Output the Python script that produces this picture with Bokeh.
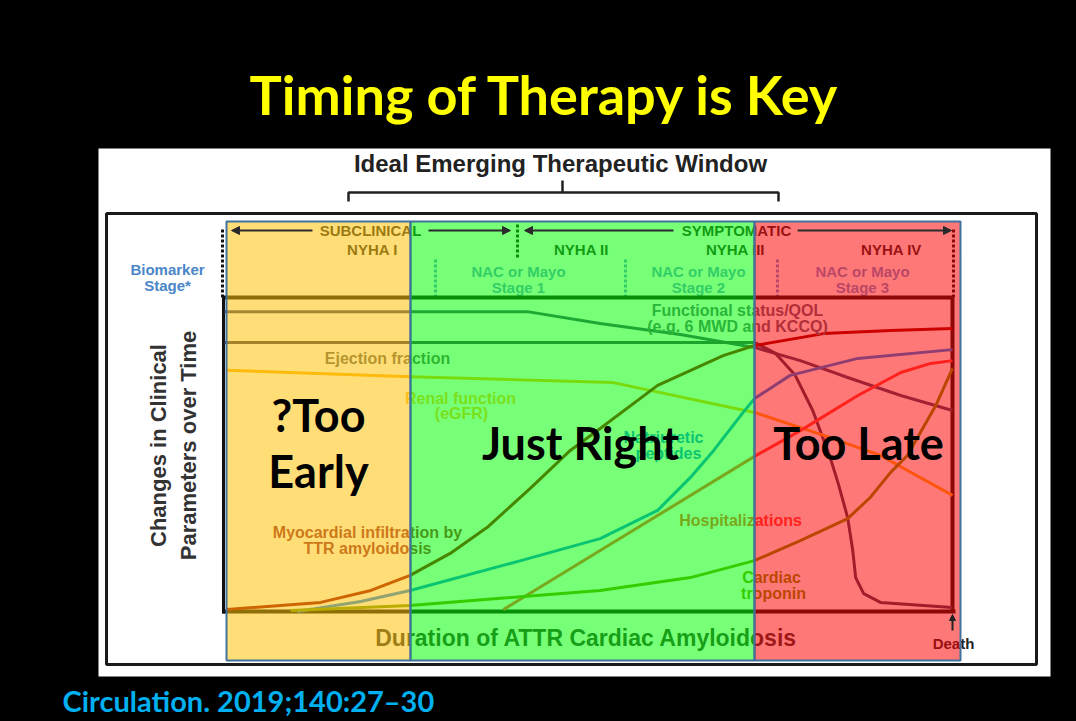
import math
from bokeh.plotting import figure
from bokeh.models import Arrow, NormalHead, Range1d
from bokeh.embed import file_html
from bokeh.resources import INLINE
from bokeh.core.properties import value

# ---------------- data: time = % of disease duration, level = % of scale ----------------
func_t = [0, 41.6, 51.6, 62.6, 72.8, 79.1, 86.0, 92.9, 100]
func_v = [95.5, 95.5, 91.7, 88.2, 84.1, 79.9, 74.2, 68.8, 64.0]

ef_t = [0, 72.8, 75.7, 78.4, 80.8, 83.2, 84.3, 85.6, 86.3, 86.7, 87.8, 90.1, 96.0, 100]
ef_v = [85.7, 85.7, 82.2, 75.2, 64.0, 49.0, 40.8, 29.9, 19.4, 10.8, 5.7, 2.9, 1.9, 1.3]

renal_t = [0.3, 25.5, 53.4, 72.8, 82.3, 90.1, 100]
renal_v = [76.8, 74.8, 72.9, 63.4, 56.1, 49.7, 37.0]

myo_t = [0.3, 13.2, 20.1, 25.5, 31.0, 36.1, 42.0, 47.5, 51.6, 59.5, 68.5, 72.8, 82.3, 91.5, 100]
myo_v = [0.6, 2.9, 6.7, 11.5, 18.5, 26.8, 39.2, 51.3, 58.3, 72.0, 81.5, 84.7, 88.5, 89.5, 90.1]

nat_t = [10.0, 18.7, 25.5, 40.7, 51.6, 59.5, 64.0, 67.2, 70.9, 72.8, 77.7, 87.0, 100]
nat_v = [0.0, 3.2, 6.7, 16.2, 23.2, 32.2, 42.7, 51.3, 62.4, 67.8, 75.2, 80.6, 83.4]

hosp_t = [38.3, 51.6, 72.8, 79.1, 87.0, 92.9, 97.0, 100]
hosp_v = [0.6, 19.4, 49.4, 57.6, 68.8, 76.1, 79.0, 79.9]

trop_t = [9.1, 25.5, 51.6, 64.0, 72.8, 79.1, 85.6, 88.7, 91.5, 93.8, 95.2, 97.7, 100]
trop_v = [0.3, 1.9, 6.7, 10.8, 16.2, 22.6, 29.6, 36.3, 44.3, 49.7, 55.4, 65.6, 77.4]

phase_labels = ["?Too|Early", "Just Right", "Too Late"]

# ---------------- layout helpers (screen pixel -> data units) ----------------
X0, X1 = 224.0, 952.0   # time 0 and 100
Y0, Y1 = 611.0, 297.0   # level 0 and 100
def tx(sx):
    return (sx - X0) / (X1 - X0) * 100.0
def ty(sy):
    return (Y0 - sy) / (Y0 - Y1) * 100.0

W, H = 1076, 721
p = figure(width=W, height=H, output_backend="svg", toolbar_location=None,
           x_range=Range1d(tx(0), tx(W)), y_range=Range1d(ty(H), ty(0)),
           min_border=0)
p.axis.visible = False
p.grid.visible = False
p.outline_line_color = None
p.background_fill_color = "black"
p.border_fill_color = "black"

ARIAL = value("Liberation Sans")
CAL = value("Lato")

def txt(items, size, color, font=ARIAL, align="center", angle=0.0):
    p.text(x=[tx(a) for a, b, c in items], y=[ty(b) for a, b, c in items],
           text=[c for a, b, c in items], text_font=font, text_font_style="bold",
           text_font_size=size, text_color=color, text_align=align,
           text_baseline="middle", angle=angle)

def seg(xs, ys, color, width, dash="solid"):
    p.line([tx(v) for v in xs], [ty(v) for v in ys], line_color=color,
           line_width=width, line_dash=dash, line_cap="butt")

# white picture area
p.quad(left=[tx(98)], right=[tx(1050)], top=[ty(148)], bottom=[ty(676)],
       fill_color="white", line_color=None)

# title
txt([(545, 94, "Timing of Therapy is Key")], "54px", "#FFFF00", font=CAL)

# therapeutic window heading and bracket
txt([(560, 163, "Ideal Emerging Therapeutic Window")], "24px", "#222222")
seg([348, 348, 778, 778], [201, 192, 192, 201], "#222222", 2.5)
seg([562, 562], [192, 180], "#222222", 2.5)

# outer frame
p.quad(left=[tx(106)], right=[tx(1036)], top=[ty(213)], bottom=[ty(664)],
       fill_color=None, line_color="#1a1a1a", line_width=3)

# header: stage arrows and separators
DK = "#2a2a2a"
for xs, xe in [(312, 231), (428, 510), (673, 524), (797, 951)]:
    p.add_layout(Arrow(end=NormalHead(size=8, line_color=DK, fill_color=DK),
                       x_start=tx(xs), y_start=ty(230), x_end=tx(xe), y_end=ty(230),
                       line_color=DK, line_width=2))
seg([222, 222], [229, 297], "#111111", 3, "3 2")
seg([953, 953], [229, 297], "#111111", 3, "3 2")
seg([517, 517], [224, 259], "#111111", 3, "3 2")
BL = "#6e96d7"
for xv in [435, 625, 777]:
    seg([xv, xv], [259, 296], BL, 3, "3 2")

txt([(370, 230, "SUBCLINICAL"), (736, 230, "SYMPTOMATIC"),
     (372, 249, "NYHA I"), (581, 249, "NYHA II"), (735, 249, "NYHA III"),
     (891, 249, "NYHA IV")], "15px", DK)
txt([(518, 271, "NAC or Mayo"), (518, 287, "Stage 1"),
     (698, 271, "NAC or Mayo"), (698, 287, "Stage 2"),
     (862, 271, "NAC or Mayo"), (862, 287, "Stage 3")], "15px", BL)
txt([(167, 269, "Biomarker"), (167, 285, "Stage*")], "15px", "#4A86C8")

# y-axis title
txt([(158, 445, "Changes in Clinical"), (188, 445, "Parameters over Time")],
    "22px", "#333333", angle=math.pi / 2)

# plot frame
seg([222, 953], [297, 297], "#111111", 4)
seg([222, 955], [611, 611], "#111111", 4)
seg([223, 223], [297, 613], "#111111", 3)
seg([952, 952], [297, 611], "#111111", 4)

# curves
curves = [
    (func_t, func_v, "#3c466e"),
    (ef_t, ef_v, "#3c3c5a"),
    (renal_t, renal_v, "#ffb21e"),
    (nat_t, nat_v, "#1482f0"),
    (hosp_t, hosp_v, "#ff463c"),
    (trop_t, trop_v, "#6e9600"),
    (myo_t, myo_v, "#960000"),
]
for t, v, c in curves:
    p.line(t, v, line_color=c, line_width=3, line_join="round")

# curve labels
txt([(737, 310, "Functional status/QOL"), (737, 326, "(e.g. 6 MWD and KCCQ)")],
    "16px", "#5a6478")
txt([(387, 358, "Ejection fraction")], "16px", "#646464")
txt([(460, 398, "Renal function"), (461, 413, "(eGFR)")], "16px", "#ffbe3c")
txt([(663, 437, "Natriuretic"), (668, 453, "peptides")], "16px", "#1482f0")
txt([(740, 520, "Hospitalizations")], "16px", "#ff463c")
txt([(771, 577, "Cardiac"), (773, 593, "troponin")], "16px", "#6e9600")
txt([(367, 532, "Myocardial infiltration by"), (367, 548, "TTR amyloidosis")],
    "16px", "#962838")

# x-axis title and death marker
txt([(586, 637, "Duration of ATTR Cardiac Amyloidosis")], "23px", "#333333")
p.add_layout(Arrow(end=NormalHead(size=6, line_color="#222222", fill_color="#222222"),
                   x_start=tx(952), y_start=ty(630), x_end=tx(952), y_end=ty(614),
                   line_color="#222222", line_width=2))
txt([(953, 643, "Death")], "15px", "#222222")

# timing overlays
ov_left = [226, 410, 754]
ov_right = [410, 754, 960]
ov_col = ["#FFC000", "#00FF00", "#FF0000"]
p.quad(left=[tx(v) for v in ov_left], right=[tx(v) for v in ov_right],
       top=[ty(221)] * 3, bottom=[ty(660)] * 3,
       fill_color=ov_col, fill_alpha=0.53, line_color="#41719C", line_width=2)

# phase labels
early = phase_labels[0].split("|")
txt([(318, 414, early[0]), (318, 470, early[1]),
     (580, 442, phase_labels[1]), (858, 442, phase_labels[2])], "45px", "black", font=CAL)

# citation
txt([(62, 700, "Circulation. 2019;140:27\u201330")], "29px", "#00B0F0", font=CAL, align="left")

html = file_html(p, INLINE)
html = html.replace("<body>", '<body style="background-color:#000000;">')
open("out.html", "w").write(html)
